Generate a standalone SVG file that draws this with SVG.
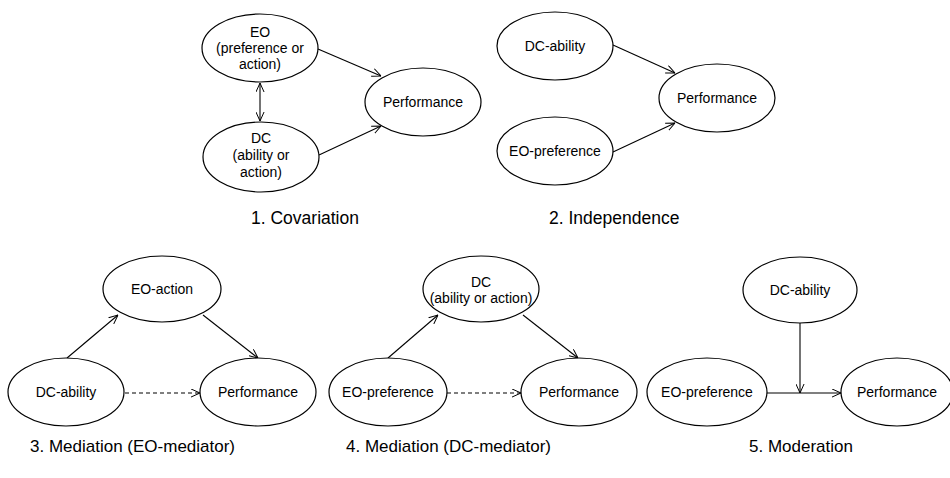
<svg xmlns="http://www.w3.org/2000/svg" width="950" height="478" viewBox="0 0 950 478">
<defs>
<marker id="arr" viewBox="0 0 10 10" refX="10" refY="5" markerWidth="9" markerHeight="9" markerUnits="userSpaceOnUse" orient="auto-start-reverse">
<path d="M0,0.5 L10,5 L0,9.5" fill="none" stroke="#000" stroke-width="1.1"/>
</marker>
<style>
.n ellipse{fill:#fff;stroke:#000;stroke-width:1.2}
.n text{font-family:"Liberation Sans",Arial,sans-serif;font-size:14px;text-anchor:middle;fill:#000}
.c line{stroke:#000;stroke-width:1.1;marker-end:url(#arr)}
.c .d{stroke-dasharray:4 3}
.cap{font-family:"Liberation Sans",Arial,sans-serif;font-size:17.5px;fill:#000}
.cap2{font-family:"Liberation Sans",Arial,sans-serif;font-size:17px;fill:#000}
</style>
</defs>
<rect width="950" height="478" fill="#fff"/>
<g class="c" id="connectors">
<line x1="318" y1="49" x2="381" y2="76"/>
<line x1="319" y1="155" x2="381" y2="126"/>
<line x1="260" y1="83" x2="260" y2="121" marker-start="url(#arr)"/>
<line x1="613" y1="45" x2="675" y2="73"/>
<line x1="613" y1="152" x2="675" y2="123"/>
<line x1="67" y1="358" x2="118" y2="315"/>
<line x1="203" y1="315" x2="258" y2="358"/>
<line class="d" x1="125" y1="393" x2="200" y2="393"/>
<line x1="388" y1="358" x2="438" y2="315"/>
<line x1="523" y1="315" x2="578" y2="358"/>
<line class="d" x1="447" y1="393" x2="521" y2="393"/>
<line x1="800" y1="323" x2="800" y2="393"/>
<line x1="767" y1="393" x2="841" y2="393"/>
</g>
<g class="n" id="d1-eo"><ellipse cx="260" cy="48" rx="58" ry="34"/><text x="260" y="37">EO</text><text x="260" y="53">(preference or</text><text x="260" y="69">action)</text></g>
<g class="n" id="d1-dc"><ellipse cx="261" cy="157" rx="58" ry="35"/><text x="261" y="143">DC</text><text x="261" y="160">(ability or</text><text x="261" y="177">action)</text></g>
<g class="n" id="d1-perf"><ellipse cx="423" cy="102" rx="58" ry="34"/><text x="423" y="107">Performance</text></g>
<g class="n" id="d2-dc"><ellipse cx="555" cy="46" rx="58" ry="34"/><text x="555" y="51">DC-ability</text></g>
<g class="n" id="d2-eo"><ellipse cx="555" cy="151" rx="58" ry="34"/><text x="555" y="156">EO-preference</text></g>
<g class="n" id="d2-perf"><ellipse cx="717" cy="98" rx="58" ry="34"/><text x="717" y="103">Performance</text></g>
<g class="n" id="d3-eo"><ellipse cx="162" cy="289" rx="59" ry="33"/><text x="162" y="294">EO-action</text></g>
<g class="n" id="d3-dc"><ellipse cx="66" cy="392" rx="58" ry="34"/><text x="66" y="397">DC-ability</text></g>
<g class="n" id="d3-perf"><ellipse cx="258" cy="392" rx="58" ry="34"/><text x="258" y="397">Performance</text></g>
<g class="n" id="d4-dc"><ellipse cx="481" cy="289" rx="58" ry="33"/><text x="481" y="287">DC</text><text x="481" y="303">(ability or action)</text></g>
<g class="n" id="d4-eo"><ellipse cx="388" cy="392" rx="59" ry="34"/><text x="388" y="397">EO-preference</text></g>
<g class="n" id="d4-perf"><ellipse cx="579" cy="392" rx="58" ry="34"/><text x="579" y="397">Performance</text></g>
<g class="n" id="d5-dc"><ellipse cx="800" cy="290" rx="57" ry="33"/><text x="800" y="295">DC-ability</text></g>
<g class="n" id="d5-eo"><ellipse cx="707" cy="392" rx="60" ry="34"/><text x="707" y="397">EO-preference</text></g>
<g class="n" id="d5-perf"><ellipse cx="897" cy="392" rx="56" ry="34"/><text x="897" y="397">Performance</text></g>
<g id="captions">
<text class="cap" x="251" y="224">1. Covariation</text>
<text class="cap" x="549" y="224">2. Independence</text>
<text class="cap2" x="30" y="452">3. Mediation (EO-mediator)</text>
<text class="cap2" x="346" y="452">4. Mediation (DC-mediator)</text>
<text class="cap2" x="749" y="452">5. Moderation</text>
</g>
</svg>
